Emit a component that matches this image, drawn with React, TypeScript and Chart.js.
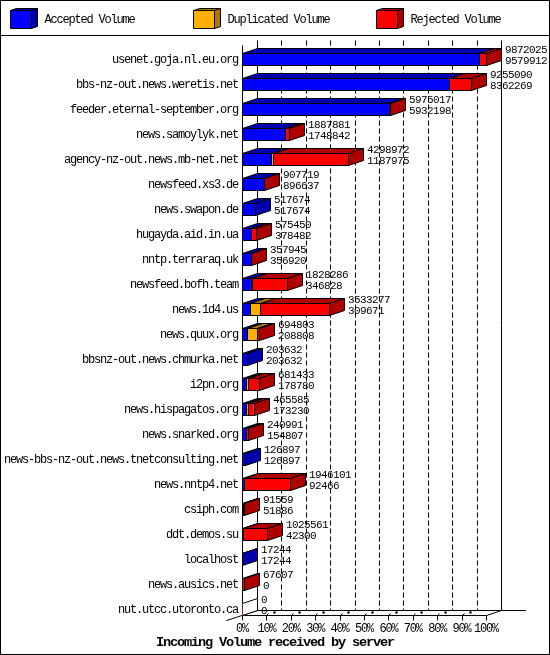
import Chart from "chart.js/auto";
import { useEffect, useRef } from "react";

const servers = [
  "usenet.goja.nl.eu.org",
  "bbs-nz-out.news.weretis.net",
  "feeder.eternal-september.org",
  "news.samoylyk.net",
  "agency-nz-out.news.mb-net.net",
  "newsfeed.xs3.de",
  "news.swapon.de",
  "hugayda.aid.in.ua",
  "nntp.terraraq.uk",
  "newsfeed.bofh.team",
  "news.1d4.us",
  "news.quux.org",
  "bbsnz-out.news.chmurka.net",
  "i2pn.org",
  "news.hispagatos.org",
  "news.snarked.org",
  "news-bbs-nz-out.news.tnetconsulting.net",
  "news.nntp4.net",
  "csiph.com",
  "ddt.demos.su",
  "localhost",
  "news.ausics.net",
  "nut.utcc.utoronto.ca",
];

const accepted = [
  9579912, 8362269, 5932198, 1748842, 1187975, 896637, 517674, 378482, 356920,
  346828, 309671, 208808, 203632, 178780, 173230, 154807, 126897, 92466, 51886,
  42300, 17244, 0, 0,
];
const duplicated = [
  12000, 5000, 10000, 5000, 60000, 3000, 0, 5000, 0, 70000, 404000, 400000, 0,
  60000, 50000, 10000, 0, 5000, 2000, 3000, 0, 0, 0,
];
const rejected = [
  280113, 887821, 32819, 134039, 3050997, 8082, 0, 191968, 1025, 1411458,
  2819606, 85995, 0, 442653, 242355, 76184, 0, 1848635, 37673, 980261, 0, 67607,
  0,
];
const totals = [
  9872025, 9255090, 5975017, 1887881, 4298972, 907719, 517674, 575450, 357945,
  1828286, 3533277, 694803, 203632, 681433, 465585, 240991, 126897, 1946101,
  91559, 1025561, 17244, 67607, 0,
];

const percentTicks = [0, 10, 20, 30, 40, 50, 60, 70, 80, 90, 100];
const maxVolume = 9872025;

const seriesNames = ["Accepted Volume", "Duplicated Volume", "Rejected Volume"];
const frontColors = ["#0000ff", "#ffaf00", "#ff0000"];
const darkColors = ["#0000af", "#af7800", "#af0000"];

const DX = 15;
const DY = 5;
const textFont = "12px 'Liberation Mono'";

const poly = (ctx: CanvasRenderingContext2D, pts: number[][], fill: string) => {
  ctx.beginPath();
  pts.forEach(([x, y], i) => (i ? ctx.lineTo(x, y) : ctx.moveTo(x, y)));
  ctx.closePath();
  ctx.fillStyle = fill;
  ctx.fill();
  ctx.stroke();
};

const line = (ctx: CanvasRenderingContext2D, x0: number, y0: number, x1: number, y1: number) => {
  ctx.beginPath();
  ctx.moveTo(x0, y0);
  ctx.lineTo(x1, y1);
  ctx.stroke();
};

const box3d = {
  id: "box3d",
  afterLayout(chart: any) {
    // the scale clips its labels to its box, and the longest one runs to the image edge
    chart.scales.y.left = 0;
  },
  beforeDraw(chart: any) {
    const { ctx, width, height } = chart;
    ctx.fillStyle = "#fff";
    ctx.fillRect(0, 0, width, height);
    // squeeze the font to the 6px cell of the original
    ctx.letterSpacing = "-1.2px";
  },
  beforeDatasetsDraw(chart: any) {
    const { ctx, scales } = chart;
    const xs = scales.x;
    const floor = 615.5;
    const top = 45.5;
    ctx.save();
    ctx.strokeStyle = "#000";
    ctx.lineWidth = 1;

    // back wall
    xs.ticks.forEach((t: any, i: number) => {
      const x = Math.round(xs.getPixelForValue(t.value)) + 0.5;
      if (i > 0 && i < xs.ticks.length - 1) {
        ctx.setLineDash([5, 3]);
        line(ctx, x + DX, top - DY, x + DX, floor - DY);
        ctx.setLineDash([]);
      }
      line(ctx, x, floor, x, floor + 5);
      if (i > 0 && i < xs.ticks.length - 1) {
        line(ctx, x, floor, x + 2, floor - 2);
        ctx.lineWidth = 2;
        line(ctx, x + 7, floor - 2.5, x + 9, floor - 3.5);
        ctx.lineWidth = 1;
      }
    });
    const x0 = Math.round(xs.getPixelForValue(0)) + 0.5;
    const x1 = Math.round(xs.getPixelForValue(maxVolume)) + 0.5;
    line(ctx, x0, top, x0, floor);
    line(ctx, x0 + DX, top - DY, x0 + DX, floor - DY);
    line(ctx, x1 + DX, top - DY, x1 + DX, floor - DY);
    line(ctx, x0, floor, x1, floor);
    line(ctx, x0 + DX, floor - DY, 526, floor - DY);
    line(ctx, x0 - 16, floor + 5, x0 + DX, floor - DY);
    line(ctx, x1, floor, x1 + DX, floor - DY);

    // top faces, then the side face at the end of each stack
    chart.data.labels.forEach((_: string, j: number) => {
      let endX = x0;
      let endColor = "#fff";
      let yTop = 0;
      let yBot = 0;
      chart.data.datasets.forEach((ds: any, i: number) => {
        const el = chart.getDatasetMeta(i).data[j];
        const y = Math.round(el.y - el.height / 2) + 0.5;
        yTop = y;
        yBot = y + Math.round(el.height);
        if (!ds.data[j]) return;
        const a = Math.round(el.base) + 0.5;
        const b = Math.round(el.x) + 0.5;
        poly(ctx, [[a, y], [b, y], [b + DX, y - DY], [a + DX, y - DY]], darkColors[i]);
        endX = b;
        endColor = darkColors[i];
      });
      poly(
        ctx,
        [[endX, yTop], [endX + DX, yTop - DY], [endX + DX, yBot - DY], [endX, yBot]],
        endColor
      );
    });
    ctx.restore();
  },
  afterDatasetsDraw(chart: any) {
    const { ctx, scales } = chart;
    const xs = scales.x;
    ctx.save();
    ctx.strokeStyle = "#000";
    ctx.lineWidth = 1;
    // crisp outline of the front faces
    chart.data.datasets.forEach((ds: any, i: number) => {
      chart.getDatasetMeta(i).data.forEach((el: any, j: number) => {
        if (!ds.data[j]) return;
        const a = Math.round(el.base) + 0.5;
        const b = Math.round(el.x) + 0.5;
        const y = Math.round(el.y - el.height / 2) + 0.5;
        ctx.strokeRect(a, y, b - a, Math.round(el.height));
      });
    });

    // the two figures beside each bar
    ctx.fillStyle = "#000";
    ctx.font = "11px 'Liberation Mono'";
    ctx.letterSpacing = "-0.6px";
    ctx.textAlign = "left";
    ctx.textBaseline = "middle";
    totals.forEach((total, j) => {
      const el = chart.getDatasetMeta(0).data[j];
      const x = Math.round(xs.getPixelForValue(total)) + DX + 4;
      ctx.fillText(String(total), x, el.y - 9);
      ctx.fillText(String(accepted[j]), x, el.y + 2);
    });
    ctx.restore();
  },
  afterDraw(chart: any) {
    const { ctx, width, height } = chart;
    ctx.save();
    ctx.strokeStyle = "#000";
    ctx.lineWidth = 1;
    ctx.strokeRect(0.5, 0.5, width - 1, height - 1);
    line(ctx, 0, 35.5, width, 35.5);

    // legend
    ctx.font = textFont;
    ctx.textBaseline = "middle";
    ctx.textAlign = "left";
    chart.data.datasets.forEach((ds: any, i: number) => {
      const x = 10.5 + i * 183;
      const y = 10.5;
      const w = 21;
      const h = 18;
      poly(ctx, [[x, y], [x + w, y], [x + w + 6, y - 2], [x + 6, y - 2]], darkColors[i]);
      poly(ctx, [[x + w, y], [x + w + 6, y - 2], [x + w + 6, y + h - 2], [x + w, y + h]], darkColors[i]);
      poly(ctx, [[x, y], [x + w, y], [x + w, y + h], [x, y + h]], frontColors[i]);
      ctx.fillStyle = "#000";
      ctx.fillText(ds.label, x + 34, 20);
    });
    ctx.restore();
  },
};

export default function App() {
  const canvasNode = useRef<HTMLCanvasElement | null>(null);

  useEffect(() => {
    document.body.style.margin = "0";
    if (!canvasNode.current) return;
    const chart = new Chart(canvasNode.current, {
      type: "bar",
      plugins: [box3d],
      data: {
        labels: servers,
        datasets: [accepted, duplicated, rejected].map((data, i) => ({
          label: seriesNames[i],
          data,
          backgroundColor: frontColors[i],
          borderWidth: 0,
          barThickness: 12,
        })),
      },
      options: {
        indexAxis: "y",
        animation: false,
        responsive: false,
        devicePixelRatio: 1,
        // equal side padding keeps the bottom title centred on the whole image
        layout: { padding: { top: 47, right: 64, left: 64, bottom: 0 } },
        scales: {
          x: {
            stacked: true,
            min: 0,
            max: maxVolume,
            grid: { display: false, drawTicks: false },
            border: { display: false },
            afterBuildTicks: (axis: any) => {
              axis.ticks = percentTicks.map((p) => ({ value: (p / 100) * maxVolume }));
            },
            afterFit: (axis: any) => {
              axis.height = 14;
            },
            ticks: {
              autoSkip: false,
              maxRotation: 0,
              padding: 0,
              color: "#000",
              font: { family: "'Liberation Mono'", size: 12 },
              callback: (v: any) => `${Math.round((v / maxVolume) * 100)}%`,
            },
          },
          y: {
            stacked: true,
            grid: { display: false, drawTicks: false },
            border: { display: false },
            afterFit: (axis: any) => {
              axis.width = 178;
            },
            ticks: {
              autoSkip: false,
              padding: 4,
              color: "#000",
              font: { family: "'Liberation Mono'", size: 12 },
            },
          },
        },
        plugins: {
          legend: { display: false },
          tooltip: { enabled: false },
          title: {
            display: true,
            position: "bottom",
            text: "Incoming Volume received by server",
            color: "#000",
            font: { family: "'Liberation Mono'", size: 13.67, weight: "bold", lineHeight: 1.03 },
            padding: { top: 0, bottom: 5 },
          },
        },
      },
    });
    return () => {
      chart.destroy();
    };
  }, []);

  return <canvas ref={canvasNode} width={550} height={655} style={{ display: "block" }} />;
}
